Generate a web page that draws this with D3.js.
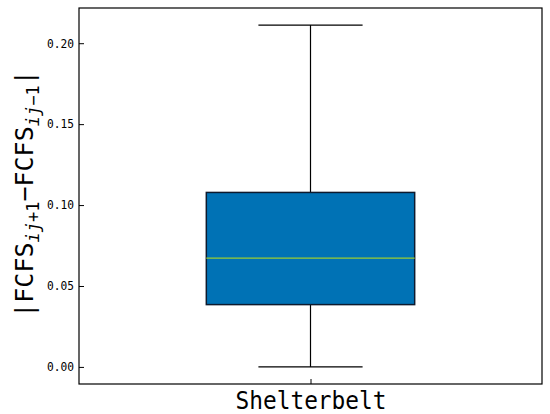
<!DOCTYPE html>
<html>
<head>
<meta charset="utf-8">
<script src="https://cdn.jsdelivr.net/npm/d3@7"></script>
<style>
  body { margin: 0; background: #fff; }
  text { font-family: "DejaVu Sans Mono", monospace; fill: #000; }
</style>
</head>
<body>
<div id="chart"></div>
<script>
const categories = ['Shelterbelt'];
const boxMin = [0.0];
const boxQ1 = [0.0385];
const boxMedian = [0.0672];
const boxQ3 = [0.1078];
const boxMax = [0.2112];
const yTicks = [0.00, 0.05, 0.10, 0.15, 0.20];

const width = 550, height = 414;
const margin = {top: 8, right: 8, bottom: 30, left: 79};

const stats = categories.map((c, i) => ({
  name: c, min: boxMin[i], q1: boxQ1[i], med: boxMedian[i], q3: boxQ3[i], max: boxMax[i]
}));

// matplotlib style 5% padding
const lo = d3.min(stats, d => d.min), hi = d3.max(stats, d => d.max);
const pad = (hi - lo) * 0.05;

const y = d3.scaleLinear()
  .domain([lo - pad, hi + pad])
  .range([height - margin.bottom, margin.top]);

const x = d3.scalePoint()
  .domain(categories)
  .range([margin.left, width - margin.right])
  .padding(0.5);

const unit = (width - margin.left - margin.right) / categories.length;
const boxW = unit * 0.45;
const capW = boxW / 2;

const svg = d3.select('#chart').append('svg')
  .attr('width', width)
  .attr('height', height);

// boxes
const g = svg.append('g').selectAll('g').data(stats).join('g');

g.append('line')
  .attr('x1', d => x(d.name)).attr('x2', d => x(d.name))
  .attr('y1', d => y(d.q3)).attr('y2', d => y(d.max))
  .attr('stroke', '#000').attr('stroke-width', 1.2);
g.append('line')
  .attr('x1', d => x(d.name)).attr('x2', d => x(d.name))
  .attr('y1', d => y(d.q1)).attr('y2', d => y(d.min))
  .attr('stroke', '#000').attr('stroke-width', 1.2);
g.append('line')
  .attr('x1', d => x(d.name) - capW / 2).attr('x2', d => x(d.name) + capW / 2)
  .attr('y1', d => y(d.max)).attr('y2', d => y(d.max))
  .attr('stroke', '#000').attr('stroke-width', 1.2);
g.append('line')
  .attr('x1', d => x(d.name) - capW / 2).attr('x2', d => x(d.name) + capW / 2)
  .attr('y1', d => y(d.min)).attr('y2', d => y(d.min))
  .attr('stroke', '#000').attr('stroke-width', 1.2);
g.append('rect')
  .attr('x', d => x(d.name) - boxW / 2)
  .attr('width', boxW)
  .attr('y', d => y(d.q3))
  .attr('height', d => y(d.q1) - y(d.q3))
  .attr('fill', '#0072b5')
  .attr('stroke', '#0d1a2e').attr('stroke-width', 1.5);
g.append('line')
  .attr('x1', d => x(d.name) - boxW / 2).attr('x2', d => x(d.name) + boxW / 2)
  .attr('y1', d => y(d.med)).attr('y2', d => y(d.med))
  .attr('stroke', '#9acd32').attr('stroke-width', 1.2);

// axes (ticks inward)
svg.append('g')
  .attr('transform', `translate(${margin.left},0)`)
  .call(d3.axisLeft(y).tickValues(yTicks).tickFormat(d3.format('.2f')).tickSizeInner(-5).tickSizeOuter(0).tickPadding(5))
  .call(a => a.select('.domain').remove())
  .call(a => a.selectAll('text')
    .attr('font-size', 12)
    .attr('font-family', '"DejaVu Sans Mono", monospace')
    .attr('textLength', 27)
    .attr('lengthAdjust', 'spacingAndGlyphs'));

const xa = svg.append('g')
  .attr('transform', `translate(0,${height - margin.bottom})`)
  .call(d3.axisBottom(x).tickSizeInner(-5).tickSizeOuter(0).tickPadding(7))
  .call(a => a.select('.domain').remove());
xa.selectAll('text')
  .attr('font-size', 25)
  .attr('font-family', '"DejaVu Sans Mono", monospace')
  .attr('textLength', 151)
  .attr('lengthAdjust', 'spacingAndGlyphs');

// frame
svg.append('rect')
  .attr('x', margin.left).attr('y', margin.top)
  .attr('width', width - margin.left - margin.right)
  .attr('height', height - margin.top - margin.bottom)
  .attr('fill', 'none').attr('stroke', '#000').attr('stroke-width', 1.2);

// y label
const cy = (margin.top + height - margin.bottom) / 2 - 2;
const lab = svg.append('text')
  .attr('transform', `translate(33,${cy}) rotate(-90)`)
  .attr('text-anchor', 'middle')
  .attr('font-family', '"DejaVu Sans", sans-serif')
  .attr('font-size', 25);
lab.append('tspan').text('|FCFS');
lab.append('tspan').attr('font-size', 17).attr('font-style', 'italic').attr('dy', 6).text('ij');
lab.append('tspan').attr('font-size', 17).text('+1');
lab.append('tspan').attr('dy', -6).text('\u2212FCFS');
lab.append('tspan').attr('font-size', 17).attr('font-style', 'italic').attr('dy', 6).text('ij');
lab.append('tspan').attr('font-size', 17).text('\u22121');
lab.append('tspan').attr('dy', -6).text('|');
</script>
</body>
</html>
